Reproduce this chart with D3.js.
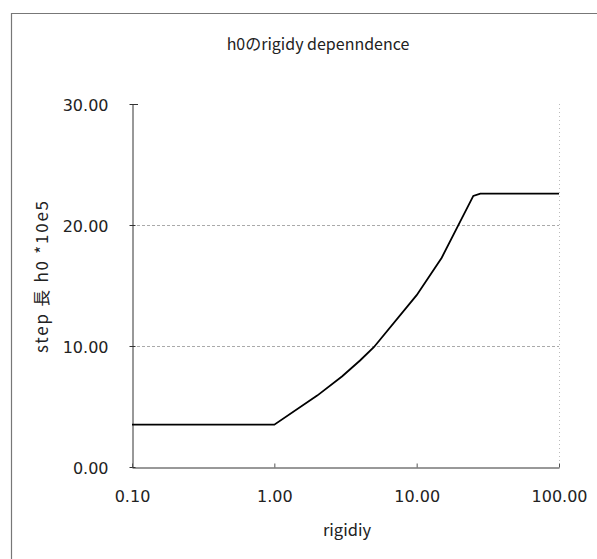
<!DOCTYPE html>
<html>
<head>
<meta charset="utf-8">
<script src="https://cdn.jsdelivr.net/npm/d3@7"></script>
<style>
  html, body { margin: 0; padding: 0; background: #fff; }
  svg { display: block; }
  text { font-family: "Noto Sans CJK JP", "Noto Sans", sans-serif; fill: #222; }
  .num { font-family: "DejaVu Sans", "Noto Sans CJK JP", sans-serif; }
</style>
</head>
<body>
<svg id="chart" width="597" height="559"></svg>
<script>
// ---- data ----
const rigidity = [0.1, 1, 2, 3, 4, 5, 10, 15, 25, 28, 100];
const h0 = [3.5, 3.5, 5.9, 7.5, 8.8, 9.9, 14.2, 17.3, 22.4, 22.6, 22.6];
const xTicks = [0.1, 1, 10, 100];
const yTicks = [0, 10, 20, 30];
const titleText = "h0のrigidy depenndence";
const xLabel = "rigidiy";
const yLabel = "step 長 h0 *10e5";

const svg = d3.select("#chart");
const W = 597, H = 559;
const m = { left: 132, right: 559, top: 104, bottom: 467 };

const x = d3.scaleLog().domain([0.1, 100]).range([m.left, m.right]);
const y = d3.scaleLinear().domain([0, 30]).range([m.bottom, m.top]);

// outer chart frame (left and top edges visible)
svg.append("path")
  .attr("d", `M11.5,${H} L11.5,13.5 L${W},13.5`)
  .attr("fill", "none").attr("stroke", "#777").attr("stroke-width", 1.2);

// gridlines
svg.append("g").selectAll("line").data(yTicks.filter(d => d > 0 && d < 30)).join("line")
  .attr("x1", m.left).attr("x2", m.right)
  .attr("y1", d => Math.round(y(d)) + 0.5).attr("y2", d => Math.round(y(d)) + 0.5)
  .attr("stroke", "#aaa").attr("stroke-width", 1).attr("stroke-dasharray", "3,2");

// right border of plot (faint dotted)
svg.append("line")
  .attr("x1", m.right + 0.5).attr("x2", m.right + 0.5)
  .attr("y1", m.top).attr("y2", m.bottom)
  .attr("stroke", "#bbb").attr("stroke-dasharray", "1,3");

// y axis
const yAxis = d3.axisLeft(y).tickValues(yTicks).tickFormat(d3.format(".2f"))
  .tickSizeInner(3).tickSizeOuter(0).tickPadding(21);
const gy = svg.append("g").attr("transform", `translate(${m.left + 0.5},0)`).call(yAxis);
gy.select(".domain").attr("stroke", "#333");
gy.selectAll(".tick line").attr("stroke", "#333").attr("x2", 3).attr("x1", -3);
gy.selectAll(".tick text").attr("class", "num").attr("font-size", 16).attr("fill", "#222").attr("dy", "0.4em");
// top short tick at 30
svg.append("line").attr("x1", m.left).attr("x2", m.left + 6)
  .attr("y1", y(30) + 0.5).attr("y2", y(30) + 0.5).attr("stroke", "#333");

// x axis
const xAxis = d3.axisBottom(x).tickValues(xTicks).tickFormat(d3.format(".2f"))
  .tickSizeInner(-4).tickSizeOuter(0).tickPadding(23);
const gx = svg.append("g").attr("transform", `translate(0,${m.bottom + 0.5})`).call(xAxis);
gx.select(".domain").attr("stroke", "#333");
gx.selectAll(".tick line").attr("stroke", "#555");
gx.selectAll(".tick text").attr("class", "num").attr("font-size", 16).attr("fill", "#222");

// line
const line = d3.line().x((d, i) => x(rigidity[i])).y(d => y(d));
svg.append("path").datum(h0)
  .attr("d", line)
  .attr("fill", "none").attr("stroke", "#000").attr("stroke-width", 1.8);

// title
svg.append("text").attr("x", 318).attr("y", 50)
  .attr("text-anchor", "middle").attr("font-size", 16).text(titleText);

// x label
svg.append("text").attr("x", 347).attr("y", 536)
  .attr("text-anchor", "middle").attr("font-size", 16.5).text(xLabel);

// y label
svg.append("text").attr("transform", `translate(48,277) rotate(-90)`)
  .attr("text-anchor", "middle").attr("font-size", 17)
  .attr("textLength", 152).attr("lengthAdjust", "spacing")
  .text(yLabel);
</script>
</body>
</html>
